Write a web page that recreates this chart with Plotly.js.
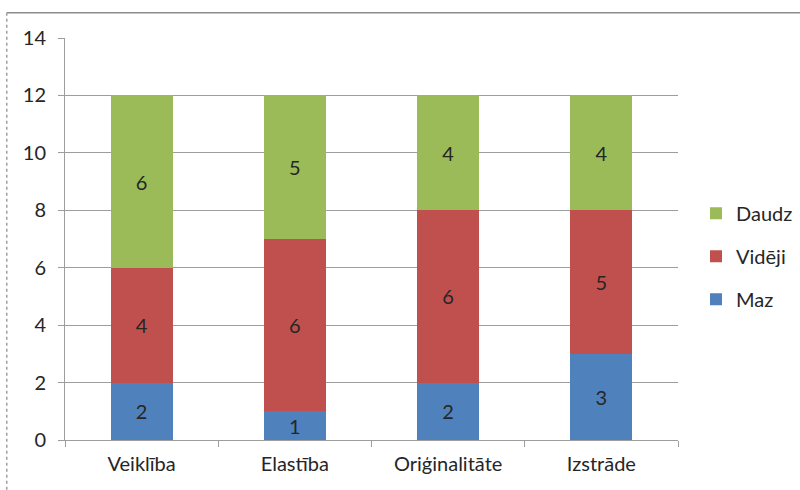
<!DOCTYPE html>
<html>
<head>
<meta charset="utf-8">
<script src="https://cdn.plot.ly/plotly-3.0.1.min.js"></script>
<style>
  html, body { margin: 0; padding: 0; background: #fff; }
  #chart { width: 800px; height: 490px; }
</style>
</head>
<body>
<div id="chart"></div>
<script>
// Categories and series values
const categories = ["Veiklība", "Elastība", "Oriģinalitāte", "Izstrāde"];
const maz = [2, 1, 2, 3];
const videji = [4, 6, 6, 5];
const daudz = [6, 5, 4, 4];
const yTicks = [0, 2, 4, 6, 8, 10, 12, 14];

const FONT = "Lato, 'Open Sans', sans-serif";
const TEXT_COLOR = "#262626";
const GRID = "#9d9d9d";
const SIZE = 20;

function series(name, values, color, rank) {
  return {
    type: "bar",
    name: name,
    x: categories,
    y: values,
    text: values.map(String),
    textposition: "inside",
    insidetextanchor: "middle",
    textangle: 0,
    constraintext: "none",
    textfont: { family: FONT, size: SIZE, color: TEXT_COLOR },
    marker: { color: color, line: { width: 0 } },
    legendgroup: name,
    legendrank: rank,
    hoverinfo: "x+y+name"
  };
}

// stacked bottom to top; legend lists top segment first
const data = [
  series("Maz", maz, "#4F81BD", 3),
  series("Vidēji", videji, "#C0504D", 2),
  series("Daudz", daudz, "#9BBB59", 1)
];

const layout = {
  width: 800,
  height: 490,
  margin: { l: 65, r: 122, t: 38, b: 50 },
  paper_bgcolor: "#ffffff",
  plot_bgcolor: "#ffffff",
  barmode: "stack",
  bargap: 0.595,
  font: { family: FONT, size: SIZE, color: TEXT_COLOR },
  xaxis: {
    type: "category",
    tickson: "boundaries",
    ticks: "outside",
    ticklen: 6,
    tickcolor: GRID,
    showline: true,
    linecolor: GRID,
    linewidth: 1,
    showgrid: false,
    ticklabelstandoff: 6,
    tickfont: { family: FONT, size: SIZE, color: TEXT_COLOR },
    automargin: false
  },
  yaxis: {
    range: [0, 14],
    tickvals: yTicks,
    ticktext: yTicks.map(String),
    ticks: "outside",
    ticklen: 6,
    tickcolor: GRID,
    showline: true,
    linecolor: GRID,
    linewidth: 1,
    showgrid: true,
    gridcolor: GRID,
    gridwidth: 1,
    zeroline: false,
    ticklabelstandoff: 8,
    tickfont: { family: FONT, size: SIZE, color: TEXT_COLOR },
    automargin: false
  },
  legend: {
    xref: "container",
    yref: "container",
    x: 0.87,
    xanchor: "left",
    y: 0.477,
    yanchor: "middle",
    traceorder: "grouped",
    tracegroupgap: 14,
    font: { family: FONT, size: SIZE, color: TEXT_COLOR },
    itemwidth: 30,
    bgcolor: "rgba(0,0,0,0)"
  },
  shapes: [
    // outer chart frame: top and left edges
    { type: "line", xref: "paper", yref: "paper", x0: -0.095, x1: 1.3, y0: 1.063, y1: 1.063,
      line: { color: "#8c8c8c", width: 1.5 } },
    { type: "line", xref: "paper", yref: "paper", x0: -0.095, x1: -0.095, y0: 1.063, y1: -0.2,
      line: { color: "#a0a0a0", width: 1.5, dash: "dot" } }
  ]
};

Plotly.newPlot("chart", data, layout, { displayModeBar: false, staticPlot: true });
</script>
</body>
</html>
